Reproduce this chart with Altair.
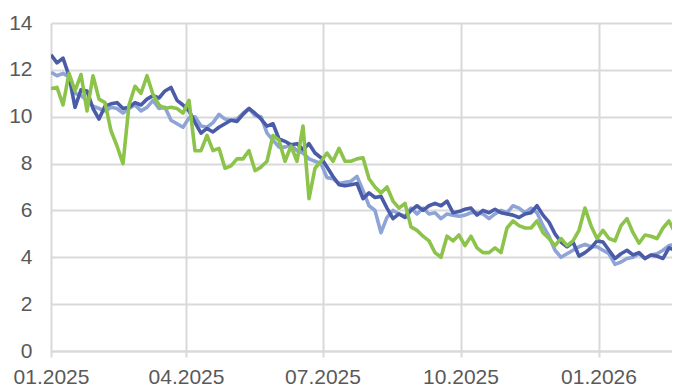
import altair as alt
import pandas as pd

START = "2025-01-01"
STEP = "4D"

dark_blue = [12.64, 12.3, 12.5, 11.75, 10.4, 11.15, 11.1, 10.35, 9.9, 10.45,
             10.55, 10.6, 10.35, 10.4, 10.6, 10.5, 10.75, 10.9, 10.8, 11.1,
             11.25, 10.7, 10.5, 10.25, 9.75, 9.3, 9.5, 9.35, 9.55, 9.7,
             9.85, 9.8, 10.1, 10.35, 10.15, 9.9, 9.6, 9.7, 9.05, 8.95,
             8.8, 8.85, 8.6, 8.85, 8.45, 8.25, 7.85, 7.45, 7.1, 7.05,
             7.1, 7.15, 6.5, 6.75, 6.55, 6.6, 6.1, 5.65, 5.85, 5.7,
             6.0, 6.2, 6.0, 6.2, 6.3, 6.2, 6.4, 5.9, 5.95, 6.05,
             6.1, 5.8, 6.0, 5.9, 6.05, 5.9, 5.85, 5.8, 5.7, 5.85,
             5.9, 6.2, 5.8, 5.5, 5.0, 4.65, 4.45, 4.65, 4.05, 4.2,
             4.4, 4.7, 4.65, 4.3, 3.95, 4.15, 4.3, 4.1, 4.2, 3.95,
             4.1, 4.05, 3.95, 4.4, 4.3, 4.3]

light_blue = [11.9, 11.75, 11.85, 11.7, 11.0, 10.9, 10.7, 10.45, 10.35, 10.25,
              10.4, 10.35, 10.15, 10.35, 10.5, 10.25, 10.4, 10.7, 10.35, 10.4,
              9.85, 9.7, 9.55, 9.95, 10.0, 9.6, 9.55, 9.75, 10.1, 9.9,
              9.85, 9.9, 10.15, 10.35, 10.05, 10.0, 9.3, 9.0, 8.7, 8.7,
              8.8, 8.55, 8.45, 8.2, 8.1, 8.0, 7.4, 7.35, 7.15, 7.2,
              7.25, 7.45, 6.85, 6.2, 6.0, 5.05, 5.7, 6.0, 5.85, 5.75,
              6.1, 5.85, 6.1, 5.85, 5.9, 5.65, 5.85, 5.8, 5.75, 5.8,
              5.9, 5.9, 5.85, 5.65, 5.85, 6.0, 5.9, 6.2, 6.1, 5.9,
              6.1, 5.9, 5.35, 4.9, 4.3, 4.0, 4.15, 4.3, 4.45, 4.55,
              4.45, 4.45, 4.3, 4.15, 3.7, 3.8, 3.95, 4.0, 4.15, 3.95,
              4.1, 4.15, 4.3, 4.5, 4.55, 4.5]

green = [11.2, 11.25, 10.5, 11.85, 11.1, 11.8, 10.25, 11.75, 10.75, 10.6,
         9.4, 8.75, 8.0, 10.5, 11.3, 11.0, 11.75, 10.95, 10.5, 10.35,
         10.4, 10.35, 10.15, 10.7, 8.55, 8.55, 9.2, 8.55, 8.65, 7.8,
         7.9, 8.2, 8.2, 8.55, 7.7, 7.85, 8.1, 9.2, 9.0, 8.1,
         8.75, 8.1, 9.6, 6.5, 7.8, 8.1, 8.45, 8.1, 8.65, 8.1,
         8.1, 8.2, 8.25, 7.35, 7.0, 6.75, 7.0, 6.4, 6.1, 6.3,
         5.3, 5.15, 4.9, 4.7, 4.2, 4.0, 4.9, 4.7, 4.95, 4.5,
         4.9, 4.4, 4.2, 4.2, 4.4, 4.2, 5.25, 5.55, 5.35, 5.25,
         5.25, 5.55, 5.05, 4.8, 4.5, 4.8, 4.5, 4.7, 5.15, 6.1,
         5.35, 4.8, 5.15, 4.8, 4.7, 5.35, 5.65, 5.05, 4.6, 4.95,
         4.9, 4.8, 5.25, 5.55, 5.05, 5.25]

series_names = ["Series A", "Series B", "Series C"]
series_values = [light_blue, dark_blue, green]
series_colors = ["#8fa4d6", "#4a5ba8", "#8cc34a"]

y_ticks = [0, 2, 4, 6, 8, 10, 12, 14]
x_ticks = [(2025, 1), (2025, 4), (2025, 7), (2025, 10), (2026, 1)]

frames = []
for name, vals in zip(series_names, series_values):
    dates = pd.date_range(START, periods=len(vals), freq=STEP).strftime("%Y-%m-%d")
    frames.append(pd.DataFrame({"date": dates, "value": vals, "series": name}))

grid_color = "#d9d9d9"
label_color = "#595959"
font = "Liberation Sans"
fs = 21

x_enc = alt.X(
    "date:T",
    scale=alt.Scale(
        type="utc",
        domain=[alt.DateTime(year=2025, month=1, date=1, utc=True),
                alt.DateTime(year=2026, month=2, date=19, utc=True)],
    ),
    axis=alt.Axis(
        values=[alt.DateTime(year=y, month=m, date=1, utc=True) for y, m in x_ticks],
        labelExpr="utcFormat(datum.value, '%m.%Y')",
        labelFlush=False,
        labelOverlap=False,
        title=None,
        grid=True,
        gridColor=grid_color,
        gridWidth=2,
        domainColor=grid_color,
        domainWidth=2,
        tickColor=grid_color,
        tickWidth=2,
        tickSize=6,
        labelPadding=9,
        labelFontSize=fs,
        labelColor=label_color,
        labelFont=font,
    ),
)
y_enc = alt.Y(
    "value:Q",
    scale=alt.Scale(domain=[0, 14], nice=False),
    axis=alt.Axis(
        values=y_ticks,
        title=None,
        grid=True,
        gridColor=grid_color,
        gridWidth=2,
        domain=False,
        ticks=False,
        labelPadding=19,
        labelFontSize=fs,
        labelColor=label_color,
        labelFont=font,
    ),
)

layers = []
for df, color in zip(frames, series_colors):
    layers.append(
        alt.Chart(df).mark_line(color=color, strokeWidth=3.6, clip=True, strokeJoin="round")
        .encode(x=x_enc, y=y_enc)
    )

chart = (
    alt.layer(*layers)
    .properties(width=621, height=328, padding={"left": 0, "top": 4, "right": 0, "bottom": 0})
    .configure_view(stroke=None)
)

chart.save("out.html", embed_options={"renderer": "svg", "actions": False})
